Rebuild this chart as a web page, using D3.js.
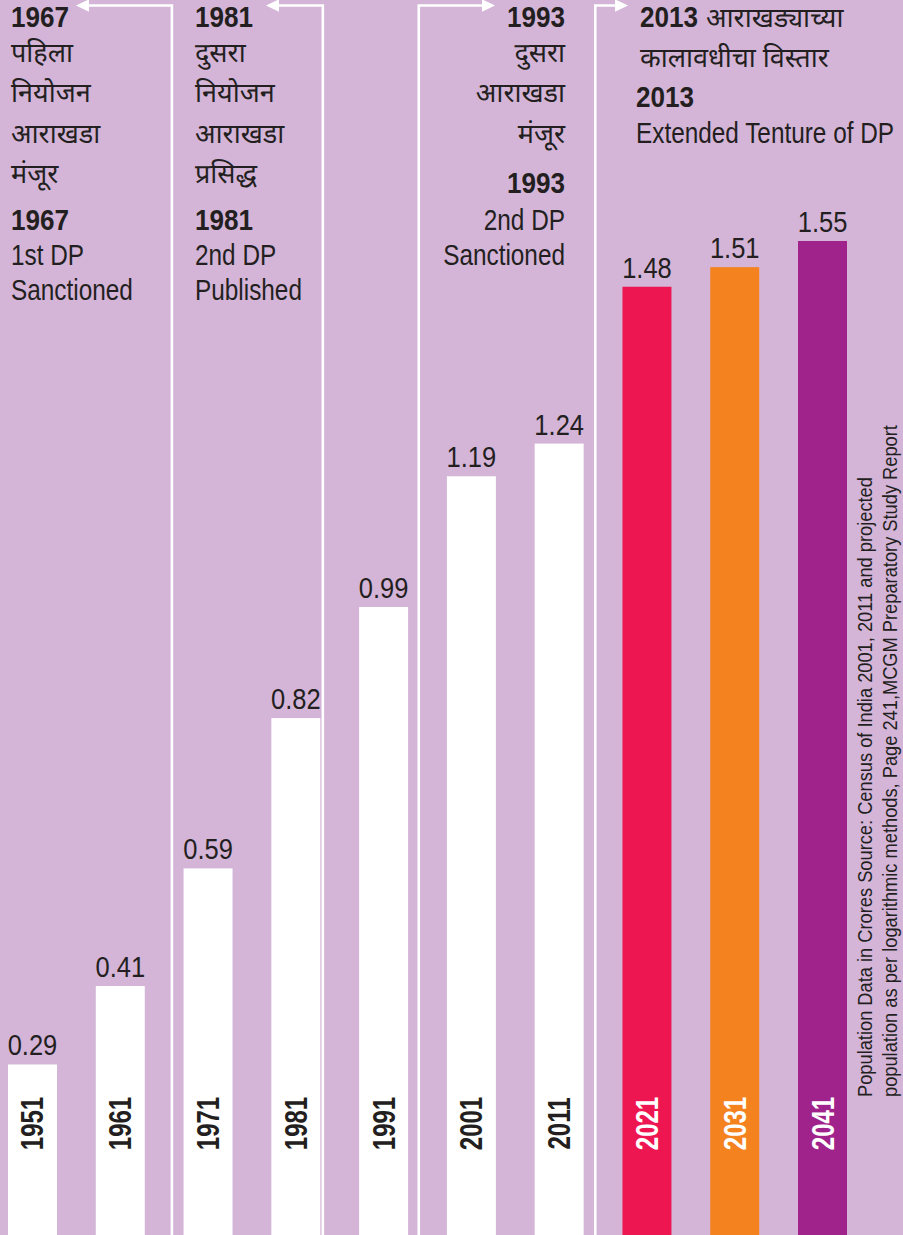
<!DOCTYPE html>
<html>
<head>
<meta charset="utf-8">
<script src="https://cdn.jsdelivr.net/npm/d3@7/dist/d3.min.js"></script>
<style>
  html, body { margin: 0; padding: 0; background: #d4b5d8; }
  svg { display: block; }
  text { font-family: "Liberation Sans", Arial, sans-serif; }
  text.deva { font-family: "Noto Sans Devanagari", "Noto Sans", sans-serif; }
</style>
</head>
<body>
<svg id="chart" width="903" height="1235"></svg>
<script>
// ---------- data ----------
const years = ["1951", "1961", "1971", "1981", "1991", "2001", "2011", "2021", "2031", "2041"];
const population = [0.29, 0.41, 0.59, 0.82, 0.99, 1.19, 1.24, 1.48, 1.51, 1.55];
const barColors = ["#ffffff", "#ffffff", "#ffffff", "#ffffff", "#ffffff", "#ffffff", "#ffffff", "#ee1651", "#f4821f", "#a0228b"];
const yearLabelColors = ["#231f20", "#231f20", "#231f20", "#231f20", "#231f20", "#231f20", "#231f20", "#ffffff", "#ffffff", "#ffffff"];

// [text, bold, devanagari]
const event1Lines = [["1967", true, false], ["पहिला", false, true], ["नियोजन", false, true], ["आराखडा", false, true], ["मंजूर", false, true], ["1967", true, false], ["1st DP", false, false], ["Sanctioned", false, false]];
const event2Lines = [["1981", true, false], ["दुसरा", false, true], ["नियोजन", false, true], ["आराखडा", false, true], ["प्रसिद्ध", false, true], ["1981", true, false], ["2nd DP", false, false], ["Published", false, false]];
const event3Lines = [["1993", true, false], ["दुसरा", false, true], ["आराखडा", false, true], ["मंजूर", false, true], ["1993", true, false], ["2nd DP", false, false], ["Sanctioned", false, false]];
const event4Head = [["2013", true, false], ["आराखड्याच्या", false, true]];
const event4Lines = [["कालावधीचा विस्तार", false, true], ["2013", true, false], ["Extended Tenture of DP", false, false]];

const sourceLines = [
  "Population Data in Crores Source: Census of India 2001, 2011 and projected",
  "population as per logarithmic methods, Page 241,MCGM Preparatory Study Report"
];

// ---------- layout ----------
const W = 903, H = 1235;
const textColor = "#231f20";
const svg = d3.select("#chart");

svg.append("rect").attr("x", 0).attr("y", 0).attr("width", W).attr("height", H).attr("fill", "#d4b5d8");

const x = d3.scaleBand().domain(years).range([8, 847]).paddingInner(0.442).paddingOuter(0);
const y = d3.scaleLinear().domain([0, 1.55]).range([1254, 241]);

const rows = years.map((yr, i) => ({ yr, v: population[i], fill: barColors[i], lab: yearLabelColors[i] }));

// helper: condensed Latin text via horizontal scale
function label(parent, o) {
  const sx = o.deva ? 1 : (o.sx || (o.bold ? 0.9 : 0.84));
  const g = parent.append("g")
    .attr("transform", `translate(${o.x},${o.y})` + (o.rotate ? ` rotate(${o.rotate})` : "") + (sx !== 1 ? ` scale(${sx},1)` : ""));
  const t = g.append("text")
    .attr("x", 0).attr("y", 0)
    .attr("text-anchor", o.anchor || "start")
    .attr("font-size", o.size)
    .attr("font-weight", o.bold ? "bold" : "normal")
    .attr("fill", o.fill || textColor)
    .text(o.text);
  if (o.deva) t.attr("class", "deva");
  return t;
}

// bars
svg.append("g").selectAll("rect").data(rows).join("rect")
  .attr("x", d => x(d.yr))
  .attr("y", d => y(d.v))
  .attr("width", x.bandwidth())
  .attr("height", d => H - y(d.v))
  .attr("fill", d => d.fill);

// value labels
const gv = svg.append("g");
rows.forEach(d => label(gv, { x: x(d.yr) + x.bandwidth() / 2, y: y(d.v) - 9, anchor: "middle", size: 30, sx: 0.85, text: d.v.toFixed(2) }));

// year labels (rotated)
const gy = svg.append("g");
rows.forEach(d => label(gy, { x: x(d.yr) + x.bandwidth() / 2 + 11, y: 1123.5, rotate: -90, anchor: "middle", size: 32, sx: 0.75, bold: true, fill: d.lab, text: d.yr }));

// ---------- event timeline arrows ----------
const gap = x.step() - x.bandwidth();
const events = [
  { after: "1961", frac: 0.70, tip: 76, dir: -1 },
  { after: "1981", frac: 0.065, tip: 266, dir: -1 },
  { after: "1991", frac: 0.275, tip: 495, dir: 1 },
  { after: "2011", frac: 0.30, tip: 628, dir: 1 }
];
const lineY = 5.5, headLen = 13, headHalf = 6.2;
const ev = svg.append("g");
events.forEach(e => {
  const lx = x(e.after) + x.bandwidth() + gap * e.frac;
  ev.append("path")
    .attr("d", `M${lx},${H} L${lx},${lineY} L${e.tip - e.dir * headLen + e.dir * 1},${lineY}`)
    .attr("fill", "none")
    .attr("stroke", "#ffffff")
    .attr("stroke-width", 2.6);
  ev.append("path")
    .attr("d", `M${e.tip},${lineY} L${e.tip - e.dir * headLen},${lineY - headHalf} L${e.tip - e.dir * headLen},${lineY + headHalf} Z`)
    .attr("fill", "#ffffff");
});

// ---------- annotation text blocks ----------
const DEVA_SIZE = 27, LAT_SIZE = 29;
function block(lines, xPos, baselines, anchor) {
  const g = svg.append("g");
  lines.forEach((ln, i) => {
    label(g, { x: xPos, y: baselines[i], anchor, size: ln[2] ? DEVA_SIZE : LAT_SIZE, bold: ln[1], deva: ln[2], text: ln[0] });
  });
}
block(event1Lines, 11, [27, 62, 102, 143, 183, 230, 265, 300], "start");
block(event2Lines, 195, [27, 62, 102, 143, 183, 230, 265, 300], "start");
block(event3Lines, 565, [27, 62, 102, 143, 193, 230, 265], "end");

const g4 = svg.append("g");
label(g4, { x: 640, y: 27, size: LAT_SIZE, bold: true, text: event4Head[0][0] });
label(g4, { x: 706, y: 27, size: DEVA_SIZE, deva: true, text: event4Head[1][0] });
const b4 = [67, 107, 143];
const x4 = [640, 636, 636];
event4Lines.forEach((ln, i) => {
  label(g4, { x: x4[i], y: b4[i], size: ln[2] ? DEVA_SIZE : LAT_SIZE, bold: ln[1], deva: ln[2], text: ln[0] });
});

// ---------- source note (rotated) ----------
const srcG = svg.append("g");
sourceLines.forEach((s, i) => {
  label(srcG, { x: 872 + i * 25, y: 1097, rotate: -90, size: 21, sx: 0.87, text: s });
});
</script>
</body>
</html>
